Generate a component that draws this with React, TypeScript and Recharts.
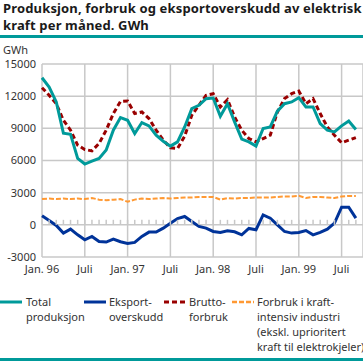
import React from "react";
import {
  ComposedChart,
  Line,
  Scatter,
  XAxis,
  YAxis,
  CartesianGrid,
} from "recharts";

// Månedlige tall, jan. 1996 - sep. 1999 (GWh)
const maaneder = [
  "jan 96", "feb 96", "mar 96", "apr 96", "mai 96", "jun 96", "jul 96", "aug 96", "sep 96", "okt 96", "nov 96", "des 96",
  "jan 97", "feb 97", "mar 97", "apr 97", "mai 97", "jun 97", "jul 97", "aug 97", "sep 97", "okt 97", "nov 97", "des 97",
  "jan 98", "feb 98", "mar 98", "apr 98", "mai 98", "jun 98", "jul 98", "aug 98", "sep 98", "okt 98", "nov 98", "des 98",
  "jan 99", "feb 99", "mar 99", "apr 99", "mai 99", "jun 99", "jul 99", "aug 99", "sep 99",
];

const totalProduksjon = [
  13720, 12850, 11460, 8550, 8450, 6200, 5670, 5950, 6200, 6970, 8830, 10000,
  9750, 8520, 9540, 9230, 8360, 7800, 7340, 7740, 9130, 10840, 11150, 11770,
  11830, 10120, 11300, 9600, 7990, 7740, 7340, 8980, 9130, 10600, 11300, 11460,
  11860, 10990, 10990, 9450, 8830, 8670, 9230, 9690, 8890,
];

const eksportoverskudd = [
  840, 400, -60, -770, -400, -930, -1390, -1080, -1550, -1610, -1330, -1580,
  -1730, -1640, -1080, -680, -680, -310, 150, 590, 780, 310, -150, -310,
  -620, -710, -560, -650, -930, -340, -460, 930, 620, 0, -620, -770,
  -710, -530, -930, -710, -400, 160, 1640, 1640, 620,
];

const bruttoforbruk = [
  12790, 12080, 11300, 9750, 8830, 7430, 7030, 6900, 7590, 8830, 10380, 11500,
  11550, 10380, 10530, 9910, 8830, 7900, 7190, 7120, 8270, 10220, 11150, 12080,
  12230, 10990, 11680, 10060, 8830, 8050, 7740, 8050, 8360, 10530, 11770, 12230,
  12480, 11300, 11770, 10380, 9130, 8360, 7650, 7900, 8140,
];

const kraftintensiv = [
  2400, 2450, 2400, 2450, 2400, 2450, 2400, 2500, 2350, 2300, 2350, 2400,
  2150, 2350, 2450, 2400, 2450, 2500, 2450, 2500, 2550, 2550, 2600, 2600,
  2600, 2350, 2500, 2450, 2500, 2500, 2550, 2550, 2550, 2600, 2650, 2650,
  2700, 2500, 2600, 2600, 2550, 2500, 2650, 2700, 2700,
];

const tickMaaneder = [0, 6, 12, 18, 24, 30, 36, 42];
const tickTekster = ["Jan. 96", "Juli", "Jan. 97", "Juli", "Jan. 98", "Juli", "Jan. 99", "Juli"];
const yTicks = [-3000, 0, 3000, 6000, 9000, 12000, 15000];

const data = maaneder.map((m, i) => ({
  i,
  maaned: m,
  total: totalProduksjon[i],
  eksport: eksportoverskudd[i],
  brutto: bruttoforbruk[i],
  kraft: kraftintensiv[i],
  null: 0,
}));

const TEAL = "#009a9a";
const BLAA = "#003399";
const ROED = "#990000";
const ORANSJE = "#ff9933";
const GRAA = "#c8c8c8";
const FONT = "'Noto Sans', sans-serif";

// små streker over nullinja for hver måned
const Maanedsstrek = (props: any) => {
  const { cx, cy } = props;
  return <line x1={cx} x2={cx} y1={cy} y2={cy - 5} stroke={GRAA} strokeWidth={1.5} />;
};

const legendLinje = (farge: string, dash?: string, bredde = 3) => (
  <svg width={22} height={6} style={{ position: "absolute", top: -3, left: 0 }}>
    <line x1={0} x2={22} y1={3} y2={3} stroke={farge} strokeWidth={bredde} strokeDasharray={dash} />
  </svg>
);

const tekstStil: React.CSSProperties = {
  position: "absolute",
  fontFamily: FONT,
  fontSize: 11,
  lineHeight: "15px",
  color: "#333",
  whiteSpace: "nowrap",
};

export default function App() {
  return (
    <div style={{ position: "absolute", left: 0, top: 0, width: 363, height: 361, background: "#fff", overflow: "hidden" }}>
      <div style={{ position: "absolute", left: 3, top: 0, fontFamily: FONT, fontWeight: 700, fontSize: 13, letterSpacing: 0.15, lineHeight: "16.5px", color: "#1a1a1a", whiteSpace: "nowrap" }}>
        Produksjon, forbruk og eksportoverskudd av elektrisk
        <br />
        kraft per måned. GWh
      </div>
      <div style={{ position: "absolute", left: 0, top: 35, width: 363, height: 2.5, background: TEAL }} />
      <div style={{ ...tekstStil, left: 3, top: 44, lineHeight: "12px" }}>GWh</div>

      <ComposedChart
        width={363}
        height={361}
        data={data}
        margin={{ top: 64, right: 0, bottom: 84, left: 0 }}
        style={{ position: "absolute", left: 0, top: 0 }}
      >
        <CartesianGrid stroke={GRAA} strokeWidth={1.5} />
        <XAxis
          dataKey="i"
          type="number"
          domain={[0, 45]}
          ticks={tickMaaneder}
          tickFormatter={(v: number) => tickTekster[tickMaaneder.indexOf(v)] ?? ""}
          axisLine={false}
          tickLine={false}
          tickSize={0}
          tickMargin={8}
          height={20}
          interval={0}
          tick={{ fontFamily: FONT, fontSize: 11, fill: "#333" }}
        />
        <YAxis
          type="number"
          domain={[-3000, 15000]}
          ticks={yTicks}
          interval={0}
          width={42}
          axisLine={false}
          tickLine={false}
          tickSize={0}
          tickMargin={6}
          tick={{ fontFamily: FONT, fontSize: 11, fill: "#333" }}
        />
        <Scatter dataKey="null" shape={<Maanedsstrek />} isAnimationActive={false} />
        <Line dataKey="kraft" stroke={ORANSJE} strokeWidth={2} strokeDasharray="5 2" dot={false} isAnimationActive={false} />
        <Line dataKey="eksport" stroke={BLAA} strokeWidth={3} dot={false} isAnimationActive={false} />
        <Line dataKey="brutto" stroke={ROED} strokeWidth={3} strokeDasharray="5 3" dot={false} isAnimationActive={false} />
        <Line dataKey="total" stroke={TEAL} strokeWidth={3} dot={false} isAnimationActive={false} />
      </ComposedChart>

      <div style={{ position: "absolute", left: 0, top: 302 }}>{legendLinje(TEAL)}</div>
      <div style={{ ...tekstStil, left: 26, top: 294 }}>Total<br />produksjon</div>
      <div style={{ position: "absolute", left: 84, top: 302 }}>{legendLinje(BLAA)}</div>
      <div style={{ ...tekstStil, left: 109, top: 294 }}>Eksport-<br />overskudd</div>
      <div style={{ position: "absolute", left: 164, top: 302 }}>{legendLinje(ROED, "5 3")}</div>
      <div style={{ ...tekstStil, left: 189, top: 294 }}>Brutto-<br />forbruk</div>
      <div style={{ position: "absolute", left: 232, top: 302 }}>{legendLinje(ORANSJE, "5 2", 2.5)}</div>
      <div style={{ ...tekstStil, left: 257, top: 294 }}>
        Forbruk i kraft-<br />intensiv industri<br />(ekskl. uprioritert<br />kraft til elektrokjeler)
      </div>
      <div style={{ position: "absolute", left: 0, top: 358, width: 363, height: 2.5, background: TEAL }} />
    </div>
  );
}
